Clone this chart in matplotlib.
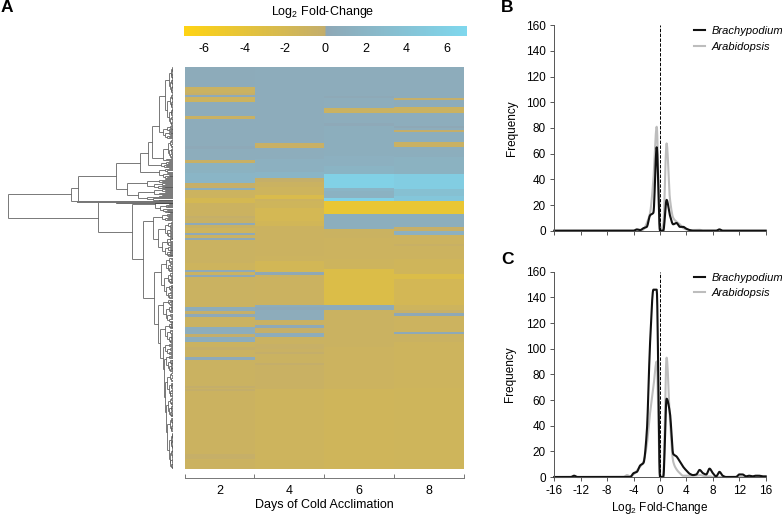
import numpy as np
import matplotlib
matplotlib.use("Agg")
import matplotlib.pyplot as plt
from matplotlib.collections import LineCollection
from matplotlib.colors import LinearSegmentedColormap

plt.rcParams['font.family'] = ['Liberation Sans', 'DejaVu Sans']
plt.rcParams['mathtext.default'] = 'regular'
plt.rcParams['axes.unicode_minus'] = False

W, H = 782, 515
N_ROWS = 402

days = ['2', '4', '6', '8']
colorbar_ticks = [-6, -4, -2, 0, 2, 4, 6]

# heatmap columns as runs of (number of rows, log2 fold change), top to bottom
day2_runs = [(21, .6), (6, -.8), (2, -.3), (2, .4), (5, -1), (14, .7), (3, -.7), (27, .7), (3, .3),
             (11, .8), (3, -.5), (10, 1.5), (10, 2), (5, -.3), (2, 1), (8, -1), (5, -2), (13, -.9),
             (2, -.2), (5, -.6), (2, .3), (3, -.6), (5, -1.2), (2, .3), (3, -.8), (2, .2), (23, -.8),
             (6, -1.2), (2, .4), (3, -.8), (2, .1), (30, -.8), (4, .7), (3, -.3), (3, .3), (10, -.8),
             (7, .8), (3, -.1), (5, .8), (5, -.8), (3, -.2), (7, -.8), (3, .4), (26, -.8), (2, -.1),
             (1, -.8), (2, -.1), (63, -.9), (5, -.3), (10, -.9)]
day4_runs = [(77, .7), (5, -.5), (11, .8), (13, 1.3), (6, 2), (4, -.2), (5, -.8), (8, -1.2), (4, -2.5),
             (2, -1), (7, -1.3), (13, -1.9), (5, -1.6), (30, -.9), (5, -1), (10, -1.7), (3, .1),
             (30, -.9), (2, .7), (3, .3), (10, .7), (5, -.7), (3, .2), (5, -.2), (4, .7), (7, -.8),
             (5, -.4), (3, -.7), (2, -.1), (9, -.8), (2, -.1), (24, -.7), (80, -1.2)]
day6_runs = [(30, .7), (2, .2), (10, .8), (5, -.8), (10, .8), (3, .3), (30, 1), (10, 1.3), (8, 1.8),
             (14, 6), (3, 2), (7, 1.6), (3, 6), (13, -4.5), (15, 1), (9, -.8), (21, -1), (9, -1.2),
             (36, -2.8), (5, .5), (37, -.8), (42, -1), (80, -1.4)]
day8_runs = [(32, .7), (2, -.3), (7, .7), (6, -.9), (13, .8), (2, 0), (2, .8), (2, -.1), (10, 1), (5, -.7),
             (10, 1), (17, 1.5), (15, 5.5), (7, 3.5), (5, 4.5), (13, -4.5), (13, 1), (4, -.3), (4, 1.3),
             (9, -1), (2, -.5), (13, -1), (14, -1.4), (5, -2.8), (26, -1.8), (5, -1.2), (3, -.4),
             (3, 0), (16, -1), (2, .2), (8, -.8), (46, -1.2), (80, -1.3)]

# dendrogram, distance counted from the leaves, rows as in the heatmap
# (distance, top row, bottom row, distance of top child, distance of bottom child)
clades = [(165, 127.3, 151, 102, 75.5), (102, 121.3, 134.3, 95.5, 95.5), (95.5, 109.3, 134.3, 57.5, 0),
          (57.5, 96, 122.3, 33.5, 46.5), (33.5, 86.6, 105.4, 25, 14), (25, 75.3, 97.9, 21.5, 12),
          (21.5, 59, 91.6, 14, 10), (46.5, 116, 128.6, 26, 35), (75.5, 135.6, 165.6, 0, 41.3),
          (41.3, 137.3, 192.6, 18, 30.3), (30.3, 154.3, 231.3, 20, 19.3), (19.3, 205, 257.6, 12, 15),
          (15, 238.3, 276.3, 10, 13), (13, 262, 291, 8, 10.5), (10.5, 280, 302, 8, 9.5),
          (9.5, 292, 330, 7, 8), (8, 315, 345, 6, 7), (7, 338, 365, 5, 6)]
# (top row, bottom row, distance, row where the parent branch comes in)
fans = [(0, 72, 14, 59), (72, 94, 10, 91.6), (94, 101, 12, 97.9), (101, 112, 14, 105.4), (112, 122, 26, 116),
        (122, 134, 35, 128.6), (136, 146, 18, 137.3), (146, 190, 20, 154.3), (190, 232, 12, 205),
        (232, 256, 10, 238.3), (256, 276, 8, 262), (276, 288, 8, 280), (288, 305, 7, 292), (305, 330, 6, 315),
        (330, 350, 5, 338), (350, 402, 6, 365)]
trunk_rows = [134.6, 135.0, 135.4, 135.8]

# histograms, panel B
b_brachy_x = [-16, -4, -3.5, -3, -2.5, -2, -1.5, -1, -.5, 0, .5, 1, 1.5, 2, 2.5, 3, 3.5, 4, 4.5, 5, 8.5, 9, 9.5, 16]
b_brachy_y = [0, 0, 1, .5, 2, 3, 12, 14, 65, 0, 0, 24, 12, 5, 6, 3, 3, 1.5, .5, 0, 0, 1, 0, 0]
b_arab_x = [-16, -3, -2.5, -2, -1.5, -1, -.5, 0, .5, 1, 1.5, 2, 2.5, 3, 3.5, 4, 4.5, 5, 6, 6.5, 16]
b_arab_y = [0, 0, 1, 6, 14, 40, 81, 0, 5, 68, 25, 10, 7, 5, 2, 1, .5, .5, .7, 0, 0]

# histograms, panel C
c_brachy_x = [-16, -13.5, -13, -12.5, -4.5, -4, -3.5, -3, -2.5, -2, -1.5, -1, -.5, 0, .5, 1, 1.5, 2, 2.5, 3, 3.5, 4,
              4.5, 5, 5.5, 6, 6.5, 7, 7.5, 8, 8.5, 9, 9.5, 10, 11.5, 12, 12.5, 13, 13.5, 14, 14.5, 15, 15.5, 16]
c_brachy_y = [0, 0, 1, 0, 0, 3, 4, 9, 11, 35, 105, 146, 146, 0, 0, 61, 50, 18, 16, 12, 8, 5,
              2.5, 1.5, 2, 5.5, 3, 2, 6.5, 3, .5, 4, 1, 0, 0, 2, 2, .5, 1, .5, 1, 1, .5, .5]
c_arab_x = [-16, -5.5, -5, -4.5, -4, -3.5, -3, -2.5, -2, -1.5, -1, -.5, 0, .5, 1, 1.5, 2, 2.5, 3, 3.5, 4, 5, 6, 7, 7.5, 8, 16]
c_arab_y = [0, 0, 1.5, .5, 2, 5, 8, 12, 25, 50, 70, 90, 0, 2, 93, 45, 12, 6, 3, 1, 1, 1, 1.5, .5, .5, 0, 0]

BLACK = '#111111'
GREY = '#bdbdbd'
AXIS = '#555555'


def px_axes(fig, left, top, right, bottom):
    return fig.add_axes([left / W, 1 - bottom / H, (right - left) / W, (bottom - top) / H])


def expand(runs):
    col = np.repeat([r[1] for r in runs], [r[0] for r in runs])
    col = np.concatenate([col, np.full(N_ROWS, col[-1])])
    return col[:N_ROWS]


def smooth(x, y):
    # smoothed line through the points, tangent is flat at peaks and dips so it does not overshoot
    x = np.array(x, dtype=float)
    y = np.array(y, dtype=float)
    slope = np.diff(y) / np.diff(x)
    tang = np.zeros(len(x))
    for i in range(1, len(x) - 1):
        if slope[i - 1] * slope[i] > 0:
            tang[i] = 2 * slope[i - 1] * slope[i] / (slope[i - 1] + slope[i])
    xs, ys = [], []
    for i in range(len(x) - 1):
        h = x[i + 1] - x[i]
        t = np.linspace(0, 1, 12)
        xs.append(x[i] + t * h)
        ys.append((2*t**3 - 3*t**2 + 1) * y[i] + (t**3 - 2*t**2 + t) * h * tang[i] +
                  (-2*t**3 + 3*t**2) * y[i + 1] + (t**3 - t**2) * h * tang[i + 1])
    return np.concatenate(xs), np.concatenate(ys)


def fan(segs, top, bot, dist, entry):
    c1 = (top + entry) / 2
    c2 = (entry + bot) / 2
    segs.append([(dist, c1), (dist, c2)])
    for a, b, c, d in ((top, entry, c1, dist * .55), (entry, bot, c2, dist * .75)):
        if b - a < 1.4:
            segs.append([(dist, c), (0, c)])
        else:
            segs.append([(dist, c), (d, c)])
            fan(segs, a, b, d, a + (b - a) * .45)


def hist_panel(ax, brachy, arab):
    ax.plot(*smooth(*arab), color=GREY, lw=1.5, label='Arabidopsis', clip_on=False)
    ax.plot(*smooth(*brachy), color=BLACK, lw=1.5, label='Brachypodium', clip_on=False)
    ax.plot([0, 0], [0, 160], color='black', lw=.7, dashes=(3.5, 1.5))
    ax.set_xlim(-16, 16)
    ax.set_ylim(0, 160)
    ax.set_xticks(np.arange(-16, 17, 4))
    ax.set_yticks(np.arange(0, 161, 20))
    ax.tick_params(length=3, width=.7, color=AXIS, labelsize=8.5, pad=3)
    ax.tick_params(axis='x', direction='out')
    for s in ['top', 'right']:
        ax.spines[s].set_visible(False)
    for s in ['left', 'bottom']:
        ax.spines[s].set_color(AXIS)
        ax.spines[s].set_linewidth(.7)
    handles, labels = ax.get_legend_handles_labels()
    ax.legend(handles[::-1], labels[::-1], loc='upper left', bbox_to_anchor=(.66, .995), frameon=False,
              prop={'style': 'italic', 'size': 8}, handlelength=1, handletextpad=.6, labelspacing=.5,
              borderaxespad=0, borderpad=0)


fig = plt.figure(figsize=(W / 100, H / 100), dpi=100)

# colour scale
cmap = LinearSegmentedColormap.from_list('cold', [(0, '#ffd414'), (.4995, '#c4ae6c'), (.5005, '#8fa8b6'),
                                                  (1, '#7fd8ee')], N=512)

# colour bar
ax_cb = px_axes(fig, 184, 26, 467, 36.5)
ax_cb.imshow(np.linspace(-7, 7, 512)[None, :], aspect='auto', cmap=cmap, vmin=-7, vmax=7, extent=[-7, 7, 0, 1])
ax_cb.set_yticks([])
ax_cb.set_xticks(colorbar_ticks)
ax_cb.set_xticklabels([str(t) for t in colorbar_ticks])
ax_cb.tick_params(length=0, labelsize=9, pad=5)
for s in ax_cb.spines.values():
    s.set_visible(False)
fig.text(322.5 / W, 1 - 12 / H, 'Log$_2$ Fold-Change', ha='center', va='center', fontsize=9)

# heatmap
matrix = np.column_stack([expand(day2_runs), expand(day4_runs), expand(day6_runs), expand(day8_runs)])
ax_h = px_axes(fig, 184.5, 66.7, 463.5, 469)
ax_h.imshow(matrix, aspect='auto', cmap=cmap, vmin=-7, vmax=7, interpolation='nearest', extent=[0, 4, N_ROWS, 0])
ax_h.set_yticks([])
ax_h.set_xticks(range(5))
ax_h.set_xticklabels([])
ax_h.set_xticks(np.arange(4) + .5, minor=True)
ax_h.set_xticklabels(days, minor=True)
ax_h.tick_params(axis='x', which='major', direction='in', length=3, width=.7, color='#777777')
ax_h.tick_params(axis='x', which='minor', length=0, labelsize=9, pad=5)
for s in ['top', 'left', 'right']:
    ax_h.spines[s].set_visible(False)
ax_h.spines['bottom'].set_position(('outward', 6.5))
ax_h.spines['bottom'].set_color('#777777')
ax_h.spines['bottom'].set_linewidth(.7)
ax_h.set_xlabel('Days of Cold Acclimation', fontsize=9, labelpad=1.5)

# dendrogram
ax_d = px_axes(fig, 0, 66.7, 173, 469)
segments = []
for d, top, bot, d_top, d_bot in clades:
    segments.append([(d, top), (d, bot)])
    segments.append([(d, top), (d_top, top)])
    segments.append([(d, bot), (d_bot, bot)])
for top, bot, d, entry in fans:
    fan(segments, top, bot, d, entry)
ax_d.add_collection(LineCollection(segments, colors='#555555', linewidths=.55))
for r in trunk_rows:
    ax_d.plot([57.5, 0], [r, r], color='#333333', lw=.5)
ax_d.plot([95.5, 0], [135, 135], color='#777777', lw=1.4)
ax_d.set_xlim(173, 0)
ax_d.set_ylim(N_ROWS, 0)
ax_d.axis('off')

# histograms
ax_b = px_axes(fig, 554.3, 25.3, 765.7, 230.7)
hist_panel(ax_b, (b_brachy_x, b_brachy_y), (b_arab_x, b_arab_y))
ax_b.set_xticklabels([])
ax_b.set_ylabel('Frequency', fontsize=8.5)
ax_b.yaxis.set_label_coords((517.7 - 554.3) / 211.4, .5)

ax_c = px_axes(fig, 554.3, 271.7, 765.7, 477)
hist_panel(ax_c, (c_brachy_x, c_brachy_y), (c_arab_x, c_arab_y))
ax_c.set_ylabel('Frequency', fontsize=8.5)
ax_c.yaxis.set_label_coords((516 - 554.3) / 211.4, .5)
ax_c.set_xlabel('Log$_2$ Fold-Change', fontsize=8.5, labelpad=2)

for letter, x, y in (('A', 1, 8), ('B', 501, 7.5), ('C', 501, 259)):
    fig.text(x / W, 1 - y / H, letter, fontsize=12.5, fontweight='bold', va='center')

fig.savefig('out.png', dpi=100)
